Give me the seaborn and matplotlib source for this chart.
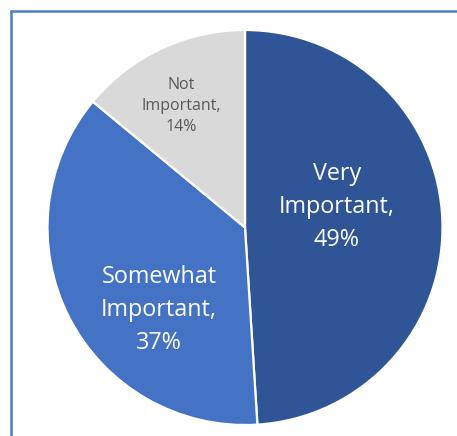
import matplotlib
matplotlib.use("Agg")
import matplotlib.pyplot as plt
from matplotlib.lines import Line2D
import seaborn as sns

categories = ["Very Important", "Somewhat Important", "Not Important"]
shares = [49, 37, 14]
label_lines = ["Very\nImportant,", "Somewhat\nImportant,", "Not\nImportant,"]

colors = ["#2F5597", "#4472C4", "#D9D9D9"]
text_colors = ["white", "white", "#595959"]
font_sizes = [16.8, 16.8, 11.5]
line_gaps = [1.5, 1.5, 1.45]
# label anchor positions in pixel space (x right, y up from bottom)
label_pos = [(337, 436 - 207), (159, 436 - 310), (181, 436 - 106)]

sns.set_theme(style="white")
plt.rcParams["font.family"] = ["Open Sans", "DejaVu Sans"]

W, H = 457, 436
fig = plt.figure(figsize=(W / 100, H / 100), dpi=100)
fig.patch.set_facecolor("white")
ax = fig.add_axes([0, 0, 1, 1])

ax.pie(
    shares,
    colors=colors,
    startangle=90,
    counterclock=False,
    center=(245, 436 - 227.5),
    radius=197.5,
    wedgeprops=dict(edgecolor="white", linewidth=1.6),
)
ax.set_xlim(0, W)
ax.set_ylim(0, H)
ax.set_aspect("equal", adjustable="box")
ax.axis("off")

for lab, val, (x, y), c, fs, ls in zip(label_lines, shares, label_pos,
                                       text_colors, font_sizes, line_gaps):
    ax.text(x, y, f"{lab}\n{val}%", ha="center", va="center", color=c,
            fontsize=fs, linespacing=ls)

# frame lines along the top and left edges
border = "#4A7EC6"
fig.add_artist(Line2D([11 / W, 1], [1 - 11 / H, 1 - 11 / H], color=border, lw=1.8,
                      transform=fig.transFigure))
fig.add_artist(Line2D([11 / W, 11 / W], [0, 1 - 11 / H], color=border, lw=1.8,
                      transform=fig.transFigure))

fig.savefig("out.png", dpi=100, facecolor="white")
